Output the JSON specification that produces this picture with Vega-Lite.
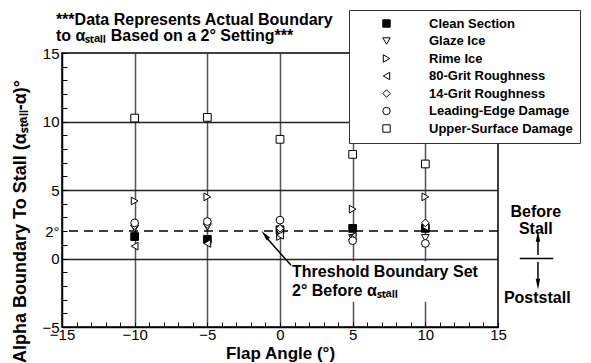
{
  "$schema": "https://vega.github.io/schema/vega-lite/v6.json",
  "width": 436,
  "height": 274,
  "autosize": {"type": "none"},
  "padding": {"left": 62, "top": 53, "right": 93, "bottom": 36},
  "background": "white",
  "config": {
    "font": "Liberation Sans",
    "view": {"stroke": "black", "strokeWidth": 1.5},
    "axis": {
      "domainColor": "black",
      "domainWidth": 1.5,
      "tickColor": "black",
      "tickWidth": 1,
      "tickSize": -5,
      "labelFont": "Liberation Sans",
      "labelFontSize": 15,
      "labelColor": "black",
      "labelOverlap": false,
      "labelBound": false,
      "labelFlush": false,
      "titleFont": "Liberation Sans",
      "titleFontWeight": "bold",
      "titleFontSize": 18,
      "titleColor": "black"
    },
    "legend": {
      "title": null,
      "orient": "none",
      "legendX": 287,
      "legendY": -43,
      "strokeColor": "#333",
      "fillColor": "white",
      "padding": 7,
      "symbolOffset": 24,
      "labelOffset": 36,
      "labelFont": "Liberation Sans",
      "labelFontSize": 13,
      "labelFontWeight": "bold",
      "labelColor": "black",
      "rowPadding": 3.5,
      "symbolSize": 55,
      "symbolStrokeWidth": 1
    }
  },
  "data": {
    "values": [
      {"flap": -10, "alpha": 1.6, "series": "Clean Section"},
      {"flap": -5, "alpha": 1.4, "series": "Clean Section"},
      {"flap": 0, "alpha": 2.1, "series": "Clean Section"},
      {"flap": 5, "alpha": 2.2, "series": "Clean Section"},
      {"flap": 10, "alpha": 2.2, "series": "Clean Section"},
      {"flap": -10, "alpha": 2.2, "series": "Glaze Ice"},
      {"flap": -5, "alpha": 2.3, "series": "Glaze Ice"},
      {"flap": 0, "alpha": 1.9, "series": "Glaze Ice"},
      {"flap": 5, "alpha": 1.5, "series": "Glaze Ice"},
      {"flap": 10, "alpha": 1.5, "series": "Glaze Ice"},
      {"flap": -10, "alpha": 4.2, "series": "Rime Ice"},
      {"flap": -5, "alpha": 4.5, "series": "Rime Ice"},
      {"flap": 0, "alpha": 1.6, "series": "Rime Ice"},
      {"flap": 5, "alpha": 3.6, "series": "Rime Ice"},
      {"flap": 10, "alpha": 4.5, "series": "Rime Ice"},
      {"flap": -10, "alpha": 0.9, "series": "80-Grit Roughness"},
      {"flap": -5, "alpha": 1.1, "series": "80-Grit Roughness"},
      {"flap": 0, "alpha": 1.7, "series": "80-Grit Roughness"},
      {"flap": 5, "alpha": 1.6, "series": "80-Grit Roughness"},
      {"flap": 10, "alpha": 2.3, "series": "80-Grit Roughness"},
      {"flap": -10, "alpha": 2.4, "series": "14-Grit Roughness"},
      {"flap": -5, "alpha": 2.5, "series": "14-Grit Roughness"},
      {"flap": 0, "alpha": 2.2, "series": "14-Grit Roughness"},
      {"flap": 5, "alpha": 1.4, "series": "14-Grit Roughness"},
      {"flap": 10, "alpha": 2.6, "series": "14-Grit Roughness"},
      {"flap": -10, "alpha": 2.6, "series": "Leading-Edge Damage"},
      {"flap": -5, "alpha": 2.7, "series": "Leading-Edge Damage"},
      {"flap": 0, "alpha": 2.8, "series": "Leading-Edge Damage"},
      {"flap": 5, "alpha": 1.3, "series": "Leading-Edge Damage"},
      {"flap": 10, "alpha": 1.1, "series": "Leading-Edge Damage"},
      {"flap": -10, "alpha": 10.25, "series": "Upper-Surface Damage"},
      {"flap": -5, "alpha": 10.3, "series": "Upper-Surface Damage"},
      {"flap": 0, "alpha": 8.7, "series": "Upper-Surface Damage"},
      {"flap": 5, "alpha": 7.6, "series": "Upper-Surface Damage"},
      {"flap": 10, "alpha": 6.9, "series": "Upper-Surface Damage"}
    ]
  },
  "encoding": {
    "x": {
      "field": "flap",
      "type": "quantitative",
      "scale": {"domain": [-15, 15], "nice": false, "zero": false},
      "axis": {
        "title": "Flap Angle (°)",
        "titlePadding": 3,
        "titleFontSize": 17,
        "values": [-15,-14,-13,-12,-11,-10,-9,-8,-7,-6,-5,-4,-3,-2,-1,0,1,2,3,4,5,6,7,8,9,10,11,12,13,14,15],
        "labelExpr": "datum.value % 5 === 0 ? datum.label : ''",
        "labelPadding": 5,
        "grid": true,
        "gridColor": "#555",
        "gridWidth": 1.5,
        "gridOpacity": {"condition": {"test": "datum.value % 5 === 0 && abs(datum.value) < 15", "value": 1}, "value": 0}
      }
    },
    "y": {
      "field": "alpha",
      "type": "quantitative",
      "scale": {"domain": [-5, 15], "nice": false, "zero": false},
      "axis": {
        "title": "Alpha Boundary To Stall (αₛₜₐₗₗ-α)°",
        "titlePadding": 12,
        "titleY": 168,
        "values": [-5,-4,-3,-2,-1,0,1,2,3,4,5,6,7,8,9,10,11,12,13,14,15],
        "labelExpr": "datum.value === 2 ? '2°' : (datum.value % 5 === 0 ? datum.label : '')",
        "labelPadding": 8,
        "grid": true,
        "gridColor": "#222",
        "gridWidth": 1.5,
        "gridOpacity": {"condition": {"test": "datum.value === 0 || datum.value === 5 || datum.value === 10", "value": 1}, "value": 0}
      }
    }
  },
  "layer": [
    {
      "transform": [{"filter": "datum.flap === -10 && datum.series === 'Clean Section'"}],
      "mark": {"type": "rect", "fill": "white", "stroke": null},
      "encoding": {
        "x": {"datum": 0.6},
        "x2": {"datum": 14.2},
        "y": {"datum": -0.2},
        "y2": {"datum": -3.15}
      }
    },
    {
      "transform": [{"filter": "datum.flap === -10 && datum.series === 'Clean Section'"}],
      "mark": {"type": "rule", "color": "black", "strokeWidth": 1.5, "strokeDash": [9, 6]},
      "encoding": {"y": {"datum": 2}, "x": null}
    },
    {
      "mark": {"type": "point", "size": 60, "strokeWidth": 1, "opacity": 1},
      "encoding": {
        "shape": {
          "field": "series",
          "type": "nominal",
          "scale": {
            "domain": ["Clean Section", "Glaze Ice", "Rime Ice", "80-Grit Roughness", "14-Grit Roughness", "Leading-Edge Damage", "Upper-Surface Damage"],
            "range": ["square", "triangle-down", "triangle-right", "triangle-left", "diamond", "circle", "square"]
          }
        },
        "fill": {
          "field": "series",
          "type": "nominal",
          "scale": {
            "domain": ["Clean Section", "Glaze Ice", "Rime Ice", "80-Grit Roughness", "14-Grit Roughness", "Leading-Edge Damage", "Upper-Surface Damage"],
            "range": ["black", "white", "white", "white", "white", "white", "white"]
          }
        },
        "stroke": {
          "field": "series",
          "type": "nominal",
          "scale": {
            "domain": ["Clean Section", "Glaze Ice", "Rime Ice", "80-Grit Roughness", "14-Grit Roughness", "Leading-Edge Damage", "Upper-Surface Damage"],
            "range": ["black", "black", "black", "black", "black", "black", "black"]
          }
        }
      }
    },
    {
      "transform": [{"filter": "datum.flap === -10 && datum.series === 'Clean Section'"}],
      "mark": {"type": "text", "align": "left", "baseline": "top", "font": "Liberation Sans", "fontSize": 16, "fontWeight": "bold", "color": "black", "lineHeight": 16.5, "text": ["***Data Represents Actual Boundary", "to αₛₜₐₗₗ Based on a 2° Setting***"]},
      "encoding": {"x": {"datum": -15.42}, "y": {"datum": 18.0}}
    },
    {
      "transform": [{"filter": "datum.flap === -10 && datum.series === 'Clean Section'"}],
      "mark": {"type": "text", "align": "left", "baseline": "top", "font": "Liberation Sans", "fontSize": 16, "fontWeight": "bold", "color": "black", "lineHeight": 19, "text": ["Threshold Boundary Set", "2° Before αₛₜₐₗₗ"]},
      "encoding": {"x": {"datum": 0.83}, "y": {"datum": -0.4}}
    },
    {
      "transform": [{"filter": "datum.flap === -10 && datum.series === 'Clean Section'"}],
      "mark": {"type": "rule", "color": "black", "strokeWidth": 1.5},
      "encoding": {"x": {"datum": 0.76}, "y": {"datum": -0.5}, "x2": {"datum": -1.0}, "y2": {"datum": 1.6}}
    },
    {
      "transform": [{"filter": "datum.flap === -10 && datum.series === 'Clean Section'"}],
      "mark": {"type": "point", "shape": "M0,-1L-0.4,1L0.4,1Z", "filled": true, "color": "black", "size": 120, "angle": -40, "opacity": 1},
      "encoding": {"x": {"datum": -1.04}, "y": {"datum": 1.72}}
    },
    {
      "transform": [{"filter": "datum.flap === -10 && datum.series === 'Clean Section'"}],
      "mark": {"type": "text", "align": "center", "baseline": "middle", "font": "Liberation Sans", "fontSize": 16, "fontWeight": "bold", "color": "black", "lineHeight": 17, "text": ["Before", "Stall"]},
      "encoding": {"x": {"datum": 17.6}, "y": {"datum": 3.4}}
    },
    {
      "transform": [{"filter": "datum.flap === -10 && datum.series === 'Clean Section'"}],
      "mark": {"type": "text", "align": "center", "baseline": "middle", "font": "Liberation Sans", "fontSize": 16, "fontWeight": "bold", "color": "black", "text": "Poststall"},
      "encoding": {"x": {"datum": 17.7}, "y": {"datum": -2.9}}
    },
    {
      "transform": [{"filter": "datum.flap === -10 && datum.series === 'Clean Section'"}],
      "mark": {"type": "rule", "color": "black", "strokeWidth": 1.5},
      "encoding": {"x": {"datum": 16.5}, "x2": {"datum": 18.8}, "y": {"datum": 0}, "y2": {"datum": 0}}
    },
    {
      "transform": [{"filter": "datum.flap === -10 && datum.series === 'Clean Section'"}],
      "mark": {"type": "rule", "color": "black", "strokeWidth": 1.5},
      "encoding": {"x": {"datum": 17.75}, "y": {"datum": 0.25}, "y2": {"datum": 1.5}}
    },
    {
      "transform": [{"filter": "datum.flap === -10 && datum.series === 'Clean Section'"}],
      "mark": {"type": "rule", "color": "black", "strokeWidth": 1.5},
      "encoding": {"x": {"datum": 17.75}, "y": {"datum": -0.25}, "y2": {"datum": -1.75}}
    },
    {
      "transform": [{"filter": "datum.flap === -10 && datum.series === 'Clean Section'"}],
      "mark": {"type": "point", "shape": "M0,-1L-0.4,1L0.4,1Z", "filled": true, "color": "black", "size": 120, "opacity": 1},
      "encoding": {"x": {"datum": 17.75}, "y": {"datum": 1.62}}
    },
    {
      "transform": [{"filter": "datum.flap === -10 && datum.series === 'Clean Section'"}],
      "mark": {"type": "point", "shape": "M0,1L-0.4,-1L0.4,-1Z", "filled": true, "color": "black", "size": 120, "opacity": 1},
      "encoding": {"x": {"datum": 17.75}, "y": {"datum": -1.88}}
    }
  ]
}
